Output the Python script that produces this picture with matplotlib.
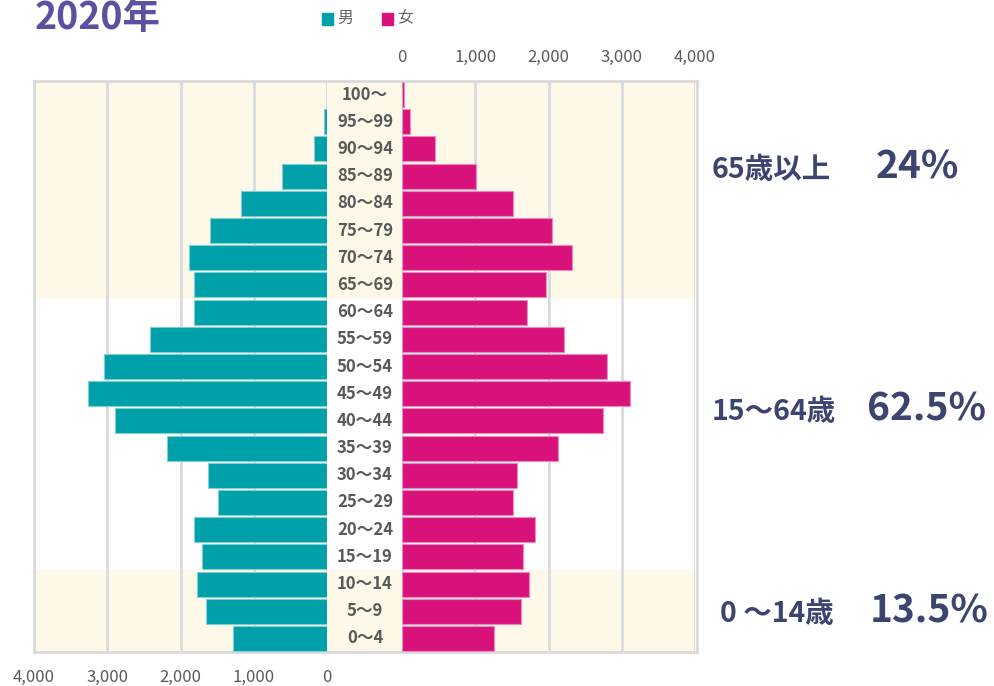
import matplotlib
matplotlib.use("Agg")
import matplotlib.pyplot as plt
import numpy as np
from matplotlib.patches import Rectangle

plt.rcParams['font.family'] = ['Noto Sans CJK JP', 'DejaVu Sans']

age_groups = ["0～4", "5～9", "10～14", "15～19", "20～24", "25～29", "30～34",
              "35～39", "40～44", "45～49", "50～54", "55～59", "60～64",
              "65～69", "70～74", "75～79", "80～84", "85～89", "90～94",
              "95～99", "100～"]
male = [1280, 1650, 1780, 1700, 1810, 1490, 1620, 2180, 2890, 3260, 3050,
        2420, 1810, 1810, 1890, 1600, 1170, 620, 175, 40, 5]
female = [1250, 1620, 1730, 1650, 1810, 1520, 1570, 2130, 2740, 3110, 2800,
          2210, 1700, 1970, 2320, 2050, 1520, 1010, 455, 110, 30]
x_ticks = [0, 1000, 2000, 3000, 4000]
x_tick_labels = ["0", "1,000", "2,000", "3,000", "4,000"]
title = "2020年"
legend_labels = ["男", "女"]
band_labels = ["65歳以上", "15～64歳", "0 ～14歳"]
band_values = ["24%", "62.5%", "13.5%"]

W, H = 995, 686
fig = plt.figure(figsize=(W / 100, H / 100), dpi=100)

def fx(px):
    return px / W

def fy(py):
    return 1 - py / H

top_px, bot_px = 81, 652
ax_b = fy(bot_px)
ax_h = (bot_px - top_px) / H

male_c = "#00A0AA"
female_c = "#D9127B"
cream = "#FDF8E7"
grid_c = "#DADADA"
text_c = "#595959"
navy = "#3D4470"

y = np.arange(len(age_groups))
ylim = (-0.5, len(age_groups) - 0.5)

# background axes (frame + cream bands)
bg = fig.add_axes([fx(34), ax_b, fx(697 - 34), ax_h])
bg.set_xlim(0, 1)
bg.set_ylim(*ylim)
bg.axhspan(12.5, 20.5, color=cream, lw=0)
bg.axhspan(-0.5, 2.5, color=cream, lw=0)
bg.set_xticks([])
bg.set_yticks([])
for s in bg.spines.values():
    s.set_color(grid_c)
    s.set_linewidth(2)
bg.set_zorder(0)

# left axes (male)
axl = fig.add_axes([fx(34), ax_b, fx(327 - 34), ax_h])
axl.set_facecolor("none")
axl.set_xlim(4000, 0)
axl.set_ylim(*ylim)
axl.barh(y, male, height=0.92, color=male_c, edgecolor="#7FCFD4", linewidth=0.8, zorder=3)
axl.set_xticks(x_ticks)
axl.set_xticklabels(x_tick_labels)
axl.tick_params(axis="x", length=0, labelsize=12, labelcolor=text_c, pad=12)
axl.set_yticks([])
axl.grid(axis="x", color=grid_c, linewidth=2, zorder=1)
for s in axl.spines.values():
    s.set_visible(False)
axl.axvline(0, color=grid_c, lw=2, zorder=2)

# right axes (female)
axr = fig.add_axes([fx(402), ax_b, fx(695 - 402), ax_h])
axr.set_facecolor("none")
axr.set_xlim(0, 4000)
axr.set_ylim(*ylim)
axr.barh(y, female, height=0.92, color=female_c, edgecolor="#EC8ABD", linewidth=0.8, zorder=3)
axr.set_xticks(x_ticks)
axr.set_xticklabels(x_tick_labels)
axr.xaxis.tick_top()
axr.tick_params(axis="x", length=0, labelsize=12, labelcolor=text_c, pad=11)
axr.set_yticks([])
axr.grid(axis="x", color=grid_c, linewidth=2, zorder=1)
for s in axr.spines.values():
    s.set_visible(False)
axr.axvline(0, color=grid_c, lw=2, zorder=2)

# age labels in middle column
for yi, lab in zip(y, age_groups):
    axl.text(1.0 + 38 / (327 - 34), yi, lab, transform=axl.get_yaxis_transform(),
             ha="center", va="center", fontsize=12, fontweight="bold",
             color=text_c, clip_on=False)

# title
fig.text(fx(35), fy(18), title, fontsize=27, fontweight="bold", color="#5F4FA0",
         ha="left", va="center")

# legend
for px, col, lab in [(322, male_c, legend_labels[0]), (382, female_c, legend_labels[1])]:
    fig.patches.append(Rectangle((fx(px), fy(25)), fx(11), 12 / H, color=col,
                                 transform=fig.transFigure, figure=fig))
    fig.text(fx(px + 15), fy(18), lab, fontsize=11.5, color="#666666",
             ha="left", va="center")

# band annotations
band_y = [170, 412, 614]
label_x = [712, 712, 720]
for by, lx, bl in zip(band_y, label_x, band_labels):
    fig.text(fx(lx), fy(by), bl, fontsize=20.5, fontweight="bold", color=navy,
             ha="left", va="center")
for by, bv, vx in zip(band_y, band_values, [917, 927, 929]):
    fig.text(fx(vx), fy(by - 3), bv, fontsize=28, fontweight="bold", color=navy,
             ha="center", va="center")

fig.savefig("out.png", dpi=100)
